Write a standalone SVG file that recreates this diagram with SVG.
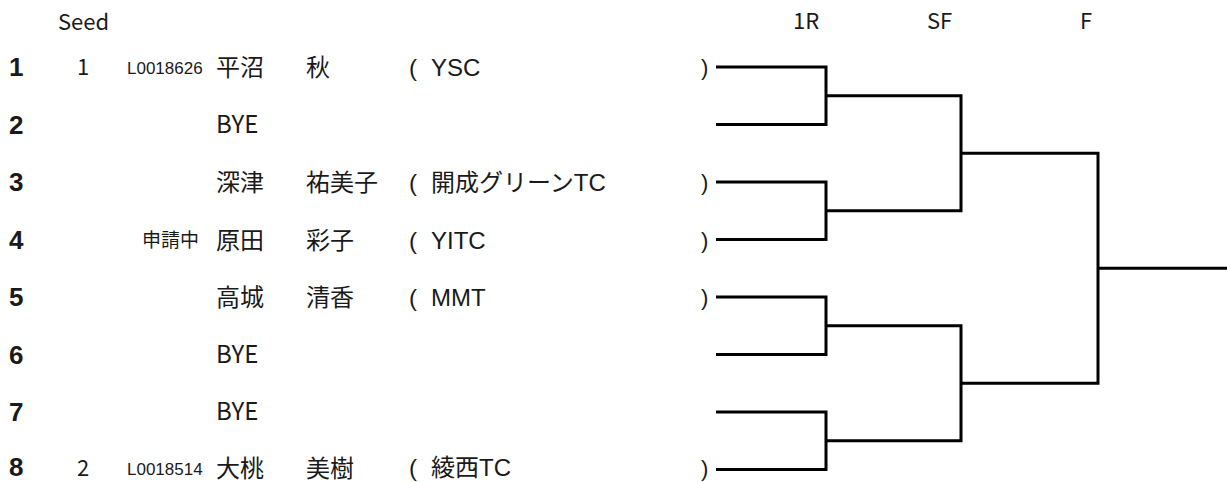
<svg xmlns="http://www.w3.org/2000/svg" width="1227" height="482" viewBox="0 0 1227 482">
<style>
text{font-family:"Noto Sans CJK JP","Liberation Sans",sans-serif;fill:#1a1a1a;font-size:24px}
.num{font-family:"Liberation Sans","Noto Sans CJK JP",sans-serif;font-weight:bold;font-size:26px}
.hd{font-size:22px}
.lic{font-family:"Liberation Sans","Noto Sans CJK JP",sans-serif;font-size:17px}
.req{font-size:19px}
.club{font-family:"Liberation Sans","Noto Sans CJK JP",sans-serif}
.op{font-family:"Liberation Sans",sans-serif;font-weight:300}
.cp{font-family:"Liberation Sans",sans-serif;font-size:22px}
.ln{stroke:#000;stroke-width:3;fill:none}
</style>
<rect width="1227" height="482" fill="#fff"/>
<g id="headers">
<text class="hd" x="58" y="30">Seed</text>
<text class="hd" x="793" y="29">1R</text>
<text class="hd" x="927" y="29">SF</text>
<text class="hd" x="1080" y="29">F</text>
</g>
<g id="p1">
<text class="num" x="9" y="76">1</text><text class="hd" x="77" y="75">1</text><text class="lic" x="127" y="74">L0018626</text>
<text x="216" y="76">平沼</text><text x="306" y="76">秋</text><text class="op" x="409" y="76">(</text><text class="club" x="431" y="76">YSC</text><text class="cp" x="701" y="75">)</text>
</g>
<g id="p2">
<text class="num" x="9" y="134">2</text><text x="216" y="133">BYE</text>
</g>
<g id="p3">
<text class="num" x="9" y="191">3</text><text x="216" y="191">深津</text><text x="306" y="191">祐美子</text><text class="op" x="409" y="191">(</text><text class="club" x="431" y="191">開成グリーンTC</text><text class="cp" x="701" y="190">)</text>
</g>
<g id="p4">
<text class="num" x="9" y="249">4</text><text class="req" x="142" y="247">申請中</text><text x="216" y="249">原田</text><text x="306" y="249">彩子</text><text class="op" x="409" y="249">(</text><text class="club" x="431" y="249">YITC</text><text class="cp" x="701" y="248">)</text>
</g>
<g id="p5">
<text class="num" x="9" y="306">5</text><text x="216" y="306">高城</text><text x="306" y="306">清香</text><text class="op" x="409" y="306">(</text><text class="club" x="431" y="306">MMT</text><text class="cp" x="701" y="305">)</text>
</g>
<g id="p6">
<text class="num" x="9" y="364">6</text><text x="216" y="363">BYE</text>
</g>
<g id="p7">
<text class="num" x="9" y="421">7</text><text x="216" y="420">BYE</text>
</g>
<g id="p8">
<text class="num" x="9" y="476">8</text><text class="hd" x="77" y="476">2</text><text class="lic" x="127" y="475">L0018514</text>
<text x="216" y="477">大桃</text><text x="306" y="477">美樹</text><text class="op" x="409" y="476">(</text><text class="club" x="431" y="476">綾西TC</text><text class="cp" x="701" y="476">)</text>
</g>
<g id="connectors">
<path class="ln" d="M716 67H826V124.5H716"/>
<path class="ln" d="M716 182H826V239.5H716"/>
<path class="ln" d="M716 297H826V354.5H716"/>
<path class="ln" d="M716 412H826V469.5H716"/>
<path class="ln" d="M826 95.75H961V210.75H826"/>
<path class="ln" d="M826 325.75H961V440.75H826"/>
<path class="ln" d="M961 153.25H1098V383.25H961"/>
<path class="ln" d="M1098 268.25H1227"/>
</g>
</svg>
